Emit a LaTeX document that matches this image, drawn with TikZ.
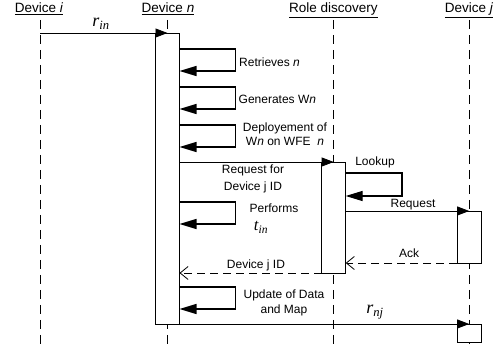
\documentclass[tikz,border=0pt]{standalone}
\usepackage{fontspec}
\setmainfont{Liberation Sans}
\newfontfamily\serifit{Liberation Serif}
\usetikzlibrary{arrows.meta,calc}
\begin{document}
\begin{tikzpicture}[x=1pt,y=-1pt,
  lifeline/.style={line width=0.8pt, dash pattern=on 9pt off 6pt},
  actbox/.style={draw, line width=0.8pt, fill=white, inner sep=0pt, outer sep=0pt, minimum width=24pt},
  selfmsg/.style={line width=1.4pt, -{Triangle[length=17pt,width=10pt]}},
  msg/.style={line width=0.8pt, -{Triangle[length=12pt,width=9pt]}},
  reply/.style={line width=0.8pt, dash pattern=on 8pt off 5pt, -{Straight Barb[length=8pt,width=13pt,line width=0.8pt]}},
  head/.style={font=\fontsize{13.5}{16}\selectfont, anchor=base, inner sep=0pt},
  lbl/.style={font=\fontsize{12}{15}\selectfont, inner sep=0pt, align=center},
  mathlbl/.style={font=\fontsize{18}{18}\selectfont\serifit\itshape, anchor=base, inner sep=0pt},
]
\useasboundingbox (0,0) rectangle (499,350);

% headers
\node[head] (hi) at (39,13) {\underline{Device \textit{i}}};
\node[head] (hn) at (168,13) {\underline{Device \textit{n}}};
\node[head] (hr) at (333.5,13) {\underline{Role discovery}};
\node[head] (hj) at (469,13) {\underline{Device \textit{j}}};

% lifelines
\coordinate (Li) at (40,20);
\coordinate (Ln) at (167.5,20);
\coordinate (Lr) at (333.7,20);
\coordinate (Lj) at (469.2,20);
\coordinate (Lie) at (40,345);
\coordinate (Lne) at (167.5,345);
\coordinate (Lre) at (333.7,345);
\coordinate (Lje) at (469.2,345);
\draw[lifeline] (Li) -- (Lie);
\draw[lifeline] (Ln) -- (Lne);
\draw[lifeline] (Lr) -- (Lre);
\draw[lifeline] (Lj) -- (Lje);

% activation boxes
\node[actbox, minimum height=291pt] (bn) at (167.5,178.5) {};
\node[actbox, minimum height=111pt] (rb) at (333.7,217.5) {};
\node[actbox, minimum height=52pt] (jb1) at (469.2,237) {};
\node[actbox, minimum height=18pt] (jb2) at (469.2,333) {};

% r_in
\draw[msg] (Li |- bn.north) -- (bn.north);
\node[mathlbl] (rin) at (101,27) {r\textsubscript{in}};

% self messages on Device n
\coordinate (s1) at ($(bn.north east)+(0,16)$);
\coordinate (s2) at ($(bn.north east)+(0,54)$);
\coordinate (s3) at ($(bn.north east)+(0,92)$);
\coordinate (s4) at ($(bn.north east)+(0,169)$);
\coordinate (s5) at ($(bn.north east)+(0,254)$);
\foreach \s in {s1,s2,s3,s4,s5}{
  \draw[selfmsg] (\s) -- ++(56,0) -- ++(0,22) -- ++(-56,0);
}
\node[lbl, anchor=north west] (t1) at (239,58) {Retrieves \textit{n}};
\node[lbl, anchor=north west] (t2) at (238.5,95) {Generates W\textit{n}};
\node[lbl, anchor=north, font=\fontsize{12}{14}\selectfont] (t3) at (285,123) {Deployement of\\W\textit{n} on WFE\ \ \textit{n}};
\node[lbl, anchor=north] (perf) at (274,204) {Performs};
\node[mathlbl, font=\fontsize{16.5}{17}\selectfont\serifit\itshape] (tin) at (261,231) {t\textsubscript{in}};
\node[lbl, anchor=north] (t5) at (284,290) {Update of Data\\and Map};

% request for device j ID
\draw[msg] (bn.east |- rb.north) -- (rb.north);
\node[lbl, anchor=north, font=\fontsize{12}{16.5}\selectfont] (t4) at (253,165) {Request for\\Device j ID};

% lookup
\coordinate (lk) at ($(rb.north east)+(0,11)$);
\draw[selfmsg] (lk) -- ++(56.3,0) -- ++(0,23) -- ++(-56.3,0);
\node[lbl, anchor=north] (tl) at (375,157) {Lookup};

% request to device j
\draw[msg] (rb.east |- jb1.north) -- (jb1.north);
\node[lbl, anchor=north] (tr) at (413,199) {Request};

% ack
\draw[reply] (jb1.south west) -- (rb.east |- jb1.south);
\node[lbl, anchor=north] (ta) at (409,249) {Ack};

% device j ID reply
\draw[reply] (rb.south west) -- (bn.east |- rb.south);
\node[lbl, anchor=north] (td) at (256,260) {Device j ID};

% r_nj
\draw[msg] (bn.south east) -- (jb2.north);
\node[mathlbl] (rnj) at (375,314) {r\textsubscript{nj}};
\end{tikzpicture}
\end{document}
